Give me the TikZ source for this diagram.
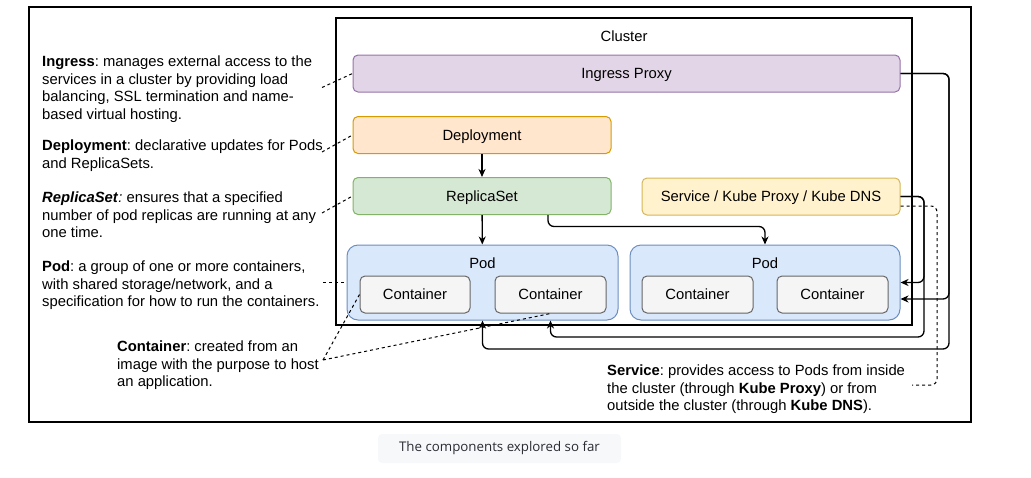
\documentclass[tikz,border=0pt]{standalone}
\usepackage{fontspec}
\setmainfont{Liberation Sans}
\newfontfamily\capfont{Open Sans}
\usetikzlibrary{arrows.meta}
\frenchspacing

\definecolor{ingfill}{HTML}{E1D5E7}\definecolor{ingline}{HTML}{9673A6}
\definecolor{depfill}{HTML}{FFE6CC}\definecolor{depline}{HTML}{D79B00}
\definecolor{rsfill}{HTML}{D5E8D4}\definecolor{rsline}{HTML}{82B366}
\definecolor{svcfill}{HTML}{FFF2CC}\definecolor{svcline}{HTML}{D6B656}
\definecolor{podfill}{HTML}{DAE8FC}\definecolor{podline}{HTML}{6C8EBF}
\definecolor{ctfill}{HTML}{F5F5F5}\definecolor{ctline}{HTML}{666666}
\definecolor{capfill}{HTML}{F6F8FA}\definecolor{captext}{HTML}{2B2B33}

\begin{document}
\begin{tikzpicture}[x=1pt,y=-1pt,
    font=\fontsize{14.8}{17.4}\selectfont,
    box/.style={draw, rounded corners=5pt, line width=1pt, minimum height=37, inner sep=0pt, text height=10.6pt, text depth=0pt},
    arr/.style={draw, line width=1.3pt, rounded corners=6pt, -{Stealth[length=8pt,width=7pt,inset=2.5pt]}},
    note/.style={draw, line width=1pt, dash pattern=on 3pt off 3pt},
    txt/.style={anchor=north west, align=left, inner sep=0pt}]

  \useasboundingbox (0,0) rectangle (1031,477);

  % frame and cluster
  \node (frame)   [draw, line width=2.6pt, minimum width=942, minimum height=415] at (500,214.5) {};
  \node (cluster) [draw, line width=1.3pt, minimum width=576, minimum height=307] at (624,171.5) {};
  \node (clusterlbl) [text height=10.6pt, text depth=0pt] at (624,36) {Cluster};

  \begin{scope}[every node/.style={box}]
    \node (ingress) [fill=ingfill, draw=ingline, minimum width=547] at (626.5,73.5) {Ingress Proxy};
    \node (deploy)  [fill=depfill, draw=depline, minimum width=258] at (482,135)   {Deployment};
    \node (replica) [fill=rsfill,  draw=rsline,  minimum width=258] at (482,196)   {ReplicaSet};
    \node (service) [fill=svcfill, draw=svcline, minimum width=258] at (771,196.5) {Service / Kube Proxy / Kube DNS};
    \node (pod1) [fill=podfill, draw=podline, minimum width=271, minimum height=75, rounded corners=11pt] at (482.5,282.5) {};
    \node (pod2) [fill=podfill, draw=podline, minimum width=270, minimum height=75, rounded corners=11pt] at (765,282.5) {};
    \node (c1) [fill=ctfill, draw=ctline, minimum width=110] at (415,294.5)   {Container};
    \node (c2) [fill=ctfill, draw=ctline, minimum width=111] at (550.5,294.5) {Container};
    \node (c3) [fill=ctfill, draw=ctline, minimum width=111] at (697.5,294.5) {Container};
    \node (c4) [fill=ctfill, draw=ctline, minimum width=111] at (832.5,294.5) {Container};
  \end{scope}
  \node (podlbl1) [text height=10.6pt, text depth=0pt] at (482.5,263) {Pod};
  \node (podlbl2) [text height=10.6pt, text depth=0pt] at (765,263)   {Pod};

  % notes
  \node (ingtxt) [txt] at (42,56)    {\textbf{Ingress}: manages external access to the\\services in a cluster by providing load\\balancing, SSL termination and name-\\based virtual hosting.};
  \node (deptxt) [txt] at (42,140)   {\textbf{Deployment}: declarative updates for Pods\\and ReplicaSets.};
  \node (rstxt)  [txt] at (42,192)   {\textbf{\textit{ReplicaSet}}\textit{:} ensures that a specified\\number of pod replicas are running at any\\one time.};
  \node (podtxt) [txt] at (42,261)   {\textbf{Pod}: a group of one or more containers,\\with shared storage/network, and a\\specification for how to run the containers.};
  \node (cttxt)  [txt] at (117,341)  {\textbf{Container}: created from an\\image with the purpose to host\\an application.};
  \node (svctxt) [txt] at (607,365)  {\textbf{Service}: provides access to Pods from inside\\the cluster (through \textbf{Kube Proxy}) or from\\outside the cluster (through \textbf{Kube DNS}).};

  \coordinate (ingnote) at (322,87.5);
  \coordinate (depnote) at (322,152);
  \coordinate (rsnote)  at (322,213);
  \coordinate (podnote) at (323,282.5);
  \coordinate (ctnote)  at (323,360);
  \coordinate (svcnote) at (912,385);

  \begin{scope}[every path/.style={note}]
    \path (ingnote) edge (ingress.west);
    \path (depnote) edge (deploy.west);
    \path (rsnote)  edge (replica.west);
    \path (podnote) edge (pod1.west);
    \path (ctnote)  edge (c1.west);
    \path (ctnote)  edge (c2.south);
    \draw[rounded corners=6pt] ([yshift=-9.5pt]service.east) -| (937,385) -- (svcnote);
  \end{scope}

  % connectors
  \coordinate (ingbend) at (949,349);
  \coordinate (svcbend) at (924,337);
  \draw[arr] (deploy) -- (replica);
  \draw[arr] (replica) -- (pod1);
  \draw[arr] ([xshift=66pt]replica.south) |- ([yshift=18pt]pod2.north) -- (pod2.north);
  \draw[arr] (ingress.east) -| (ingbend) -| (pod1.south);
  \draw[arr] (ingress.east) -| (ingbend |- 0,299) -- ([yshift=-16.5pt]pod2.east);
  \draw[arr] (service.east) -| (svcbend |- pod2.east) -- (pod2.east);
  \draw[arr] (service.east) -| (svcbend) -| ([xshift=68pt]pod1.south);

  % caption
  \node (capbox) [fill=capfill, rounded corners=4pt, minimum width=243, minimum height=29] at (499.5,448.5) {};
  \node (caption) [font=\capfont\fontsize{13.3}{15}\selectfont, text=captext] at (499.5,448.5) {The components explored so far};

\end{tikzpicture}
\end{document}
